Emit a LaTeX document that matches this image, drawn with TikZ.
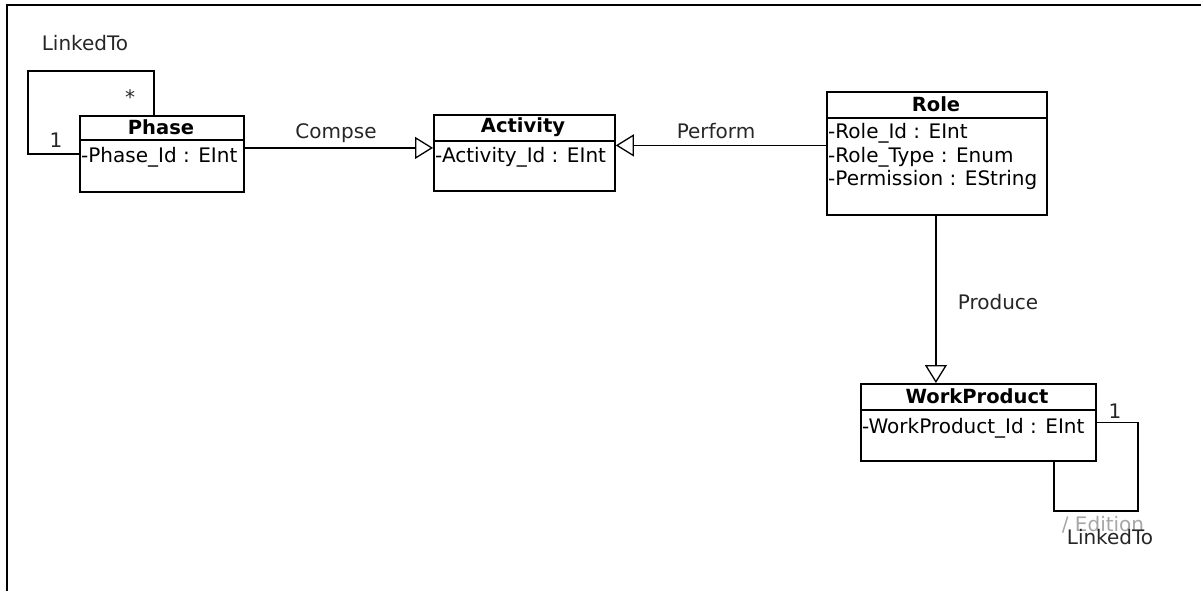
\documentclass[tikz,border=0pt]{standalone}
\usepackage{fontspec}
\setmainfont{DejaVu Sans}
\usetikzlibrary{arrows.meta}
\begin{document}
\begin{tikzpicture}[x=1pt,y=-1pt,
 cls/.style={draw, line width=1.8pt, inner sep=0pt, anchor=north west},
 divider/.style={line width=1.5pt},
 ttl/.style={font=\fontsize{19.5}{22}\selectfont\bfseries, inner sep=0pt},
 attr/.style={font=\fontsize{20}{23}\selectfont, inner sep=0pt, anchor=west},
 lbl/.style={font=\fontsize{20}{23}\selectfont, inner sep=0pt, text=black!85},
 conn/.style={line width=1.3pt},
 gen/.style={conn, -{Triangle[open, length=18pt, width=22pt, line width=1.3pt]}}
]
\useasboundingbox (0,0) rectangle (1201,591);
\draw[line width=2.5pt] (7,591) -- (7,5) -- (1201,5);

% Phase
\node[cls, minimum width=164pt, minimum height=76pt] (phase) at (79,115) {};
\draw[divider] ([yshift=-25pt]phase.north west) -- ([yshift=-25pt]phase.north east);
\node[ttl] (phaseT) at (161,127) {Phase};
\node[attr] (phaseA) at (81,157) {-Phase\_Id : EInt};

% Activity
\node[cls, minimum width=181pt, minimum height=76pt] (activity) at (433,114) {};
\draw[divider] ([yshift=-27pt]activity.north west) -- ([yshift=-27pt]activity.north east);
\node[ttl] (activityT) at (523,127) {Activity};
\node[attr] (activityA) at (435,157) {-Activity\_Id : EInt};

% Role
\node[cls, minimum width=220pt, minimum height=123pt] (role) at (826,91) {};
\draw[divider] ([yshift=-27pt]role.north west) -- ([yshift=-27pt]role.north east);
\node[ttl] (roleT) at (936,104) {Role};
\node[attr] (roleA1) at (828,133) {-Role\_Id : EInt};
\node[attr] (roleA2) at (828,157) {-Role\_Type : Enum};
\node[attr] (roleA3) at (828,180) {-Permission : EString};

% WorkProduct
\node[cls, minimum width=235pt, minimum height=77pt] (wp) at (860,383) {};
\draw[divider] ([yshift=-27pt]wp.north west) -- ([yshift=-27pt]wp.north east);
\node[ttl] (wpT) at (977,396) {WorkProduct};
\node[attr] (wpA) at (862,428) {-WorkProduct\_Id : EInt};

% Phase self loop
\coordinate (pl1) at (28,71);
\draw[conn] (phase.west) -| (pl1) -| ([xshift=-8pt]phase.north);
\node[lbl] (plStar) at (130,97) {*};
\node[lbl] (plOne) at (56,140) {1};
\node[lbl] (plName) at (85,43) {LinkedTo};

% Compse
\draw[gen] ([yshift=6pt]phase.east) -- ([yshift=6pt]phase.east -| activity.west);
\node[lbl] (compse) at (336,133) {Compse};

% Perform
\draw[gen] ([yshift=8pt]role.west) -- ([yshift=8pt]role.west -| activity.east);
\node[lbl] (perform) at (716,131) {Perform};

% Produce
\draw[gen] ([xshift=-1pt]role.south) -- ([xshift=-1pt]role.south |- wp.north);
\node[lbl] (produce) at (998,302) {Produce};

% WorkProduct self loop
\coordinate (wl1) at (1138,511);
\draw[conn] (wp.east) -| (wl1) -| ([xshift=75.5pt]wp.south);
\node[lbl] (wlOne) at (1115,411) {1};
\node[lbl, text=black!35] (wlEd) at (1103,525) {/ Edition};
\node[lbl] (wlName) at (1110,537) {LinkedTo};
\end{tikzpicture}
\end{document}
